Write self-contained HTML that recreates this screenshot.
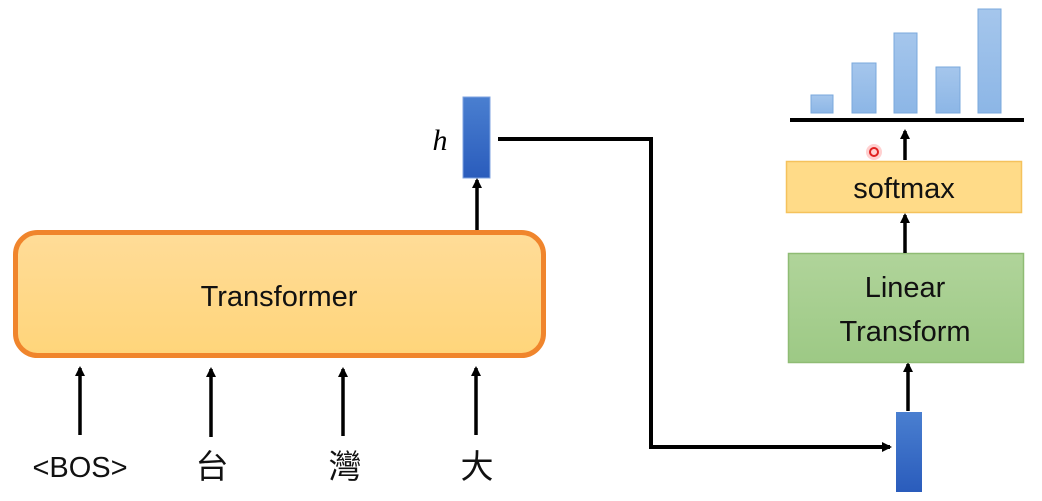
<!DOCTYPE html>
<html><head><meta charset="utf-8"><style>
html,body{margin:0;padding:0;background:#fff;width:1042px;height:501px;overflow:hidden}
</style></head><body>
<svg width="1042" height="501" viewBox="0 0 1042 501" xmlns="http://www.w3.org/2000/svg">
<defs>
<linearGradient id="blue" x1="0" y1="0" x2="0" y2="1"><stop offset="0" stop-color="#4a7fd0"/><stop offset="1" stop-color="#2a5cbc"/></linearGradient>
<linearGradient id="org" x1="0" y1="0" x2="0" y2="1"><stop offset="0" stop-color="#ffdc98"/><stop offset="1" stop-color="#ffd57a"/></linearGradient>
<linearGradient id="grn" x1="0" y1="0" x2="0" y2="1"><stop offset="0" stop-color="#b0d49a"/><stop offset="1" stop-color="#9dc985"/></linearGradient>
<linearGradient id="lb" x1="0" y1="0" x2="0" y2="1"><stop offset="0" stop-color="#a5c6ec"/><stop offset="1" stop-color="#8cb6e6"/></linearGradient>
<marker id="ah" markerWidth="10" markerHeight="10" refX="8" refY="5" orient="auto" markerUnits="userSpaceOnUse"><path d="M0,0 L10,5 L0,10 Z" fill="#000"/></marker>
</defs>
<g font-family="Liberation Sans, sans-serif">
<!-- Transformer -->
<rect x="15.5" y="232.5" width="528" height="123" rx="22" fill="url(#org)" stroke="#f0852c" stroke-width="5"/>
<text x="279" y="306" font-size="29" text-anchor="middle" fill="#111">Transformer</text>
<!-- h vector -->
<rect x="463" y="97" width="27" height="81" fill="url(#blue)" stroke="#7fa3e0" stroke-width="1"/>
<text x="440" y="150" font-size="30" font-style="italic" font-family="Liberation Serif, serif" text-anchor="middle">h</text>
<line x1="477" y1="230" x2="477" y2="180" stroke="#000" stroke-width="3.5" marker-end="url(#ah)"/>
<!-- input arrows -->
<line x1="80" y1="435" x2="80" y2="368" stroke="#000" stroke-width="3.5" marker-end="url(#ah)"/>
<line x1="211" y1="437" x2="211" y2="369" stroke="#000" stroke-width="3.5" marker-end="url(#ah)"/>
<line x1="343" y1="436" x2="343" y2="369" stroke="#000" stroke-width="3.5" marker-end="url(#ah)"/>
<line x1="476" y1="435" x2="476" y2="368" stroke="#000" stroke-width="3.5" marker-end="url(#ah)"/>
<text x="80" y="477" font-size="29" text-anchor="middle" fill="#111">&lt;BOS&gt;</text>
<text x="212" y="478" font-size="33" text-anchor="middle" font-family="Liberation Sans, Noto Sans CJK TC, sans-serif" fill="#111">台</text>
<text x="345" y="478" font-size="33" text-anchor="middle" font-family="Liberation Sans, Noto Sans CJK TC, sans-serif" fill="#111">灣</text>
<text x="477" y="478" font-size="33" text-anchor="middle" font-family="Liberation Sans, Noto Sans CJK TC, sans-serif" fill="#111">大</text>
<!-- connector -->
<polyline points="498,139 651,139 651,447 890,447" fill="none" stroke="#000" stroke-width="4" marker-end="url(#ah)"/>
<!-- bottom vector -->
<rect x="896" y="412" width="26" height="80" fill="url(#blue)"/>
<line x1="908" y1="411" x2="908" y2="364" stroke="#000" stroke-width="3.5" marker-end="url(#ah)"/>
<!-- linear -->
<rect x="788.5" y="253.5" width="235" height="109" fill="url(#grn)" stroke="#8fbc74" stroke-width="1.5"/>
<text x="905" y="297" font-size="29" text-anchor="middle" fill="#111">Linear</text>
<text x="905" y="341" font-size="29" text-anchor="middle" fill="#111">Transform</text>
<line x1="905" y1="253" x2="905" y2="215" stroke="#000" stroke-width="3.5" marker-end="url(#ah)"/>
<!-- softmax -->
<rect x="786.5" y="161.5" width="235" height="51" fill="#ffdb88" stroke="#f5c25c" stroke-width="1.5"/>
<text x="904" y="198" font-size="29" text-anchor="middle" fill="#111">softmax</text>
<line x1="905" y1="160" x2="905" y2="131" stroke="#000" stroke-width="3.5" marker-end="url(#ah)"/>
<!-- bars -->
<rect x="811" y="95" width="22" height="18" fill="url(#lb)" stroke="#7aa8dc"/>
<rect x="852" y="63" width="24" height="50" fill="url(#lb)" stroke="#7aa8dc"/>
<rect x="894" y="33" width="23" height="80" fill="url(#lb)" stroke="#7aa8dc"/>
<rect x="936" y="67" width="24" height="46" fill="url(#lb)" stroke="#7aa8dc"/>
<rect x="978" y="9" width="23" height="104" fill="url(#lb)" stroke="#7aa8dc"/>
<line x1="790" y1="120" x2="1024" y2="120" stroke="#000" stroke-width="4"/>
<circle cx="874" cy="152" r="8" fill="#ffb0b0" opacity="0.6"/>
<circle cx="874" cy="152" r="4" fill="none" stroke="#e02020" stroke-width="2"/>
</g>
</svg>
</body></html>
